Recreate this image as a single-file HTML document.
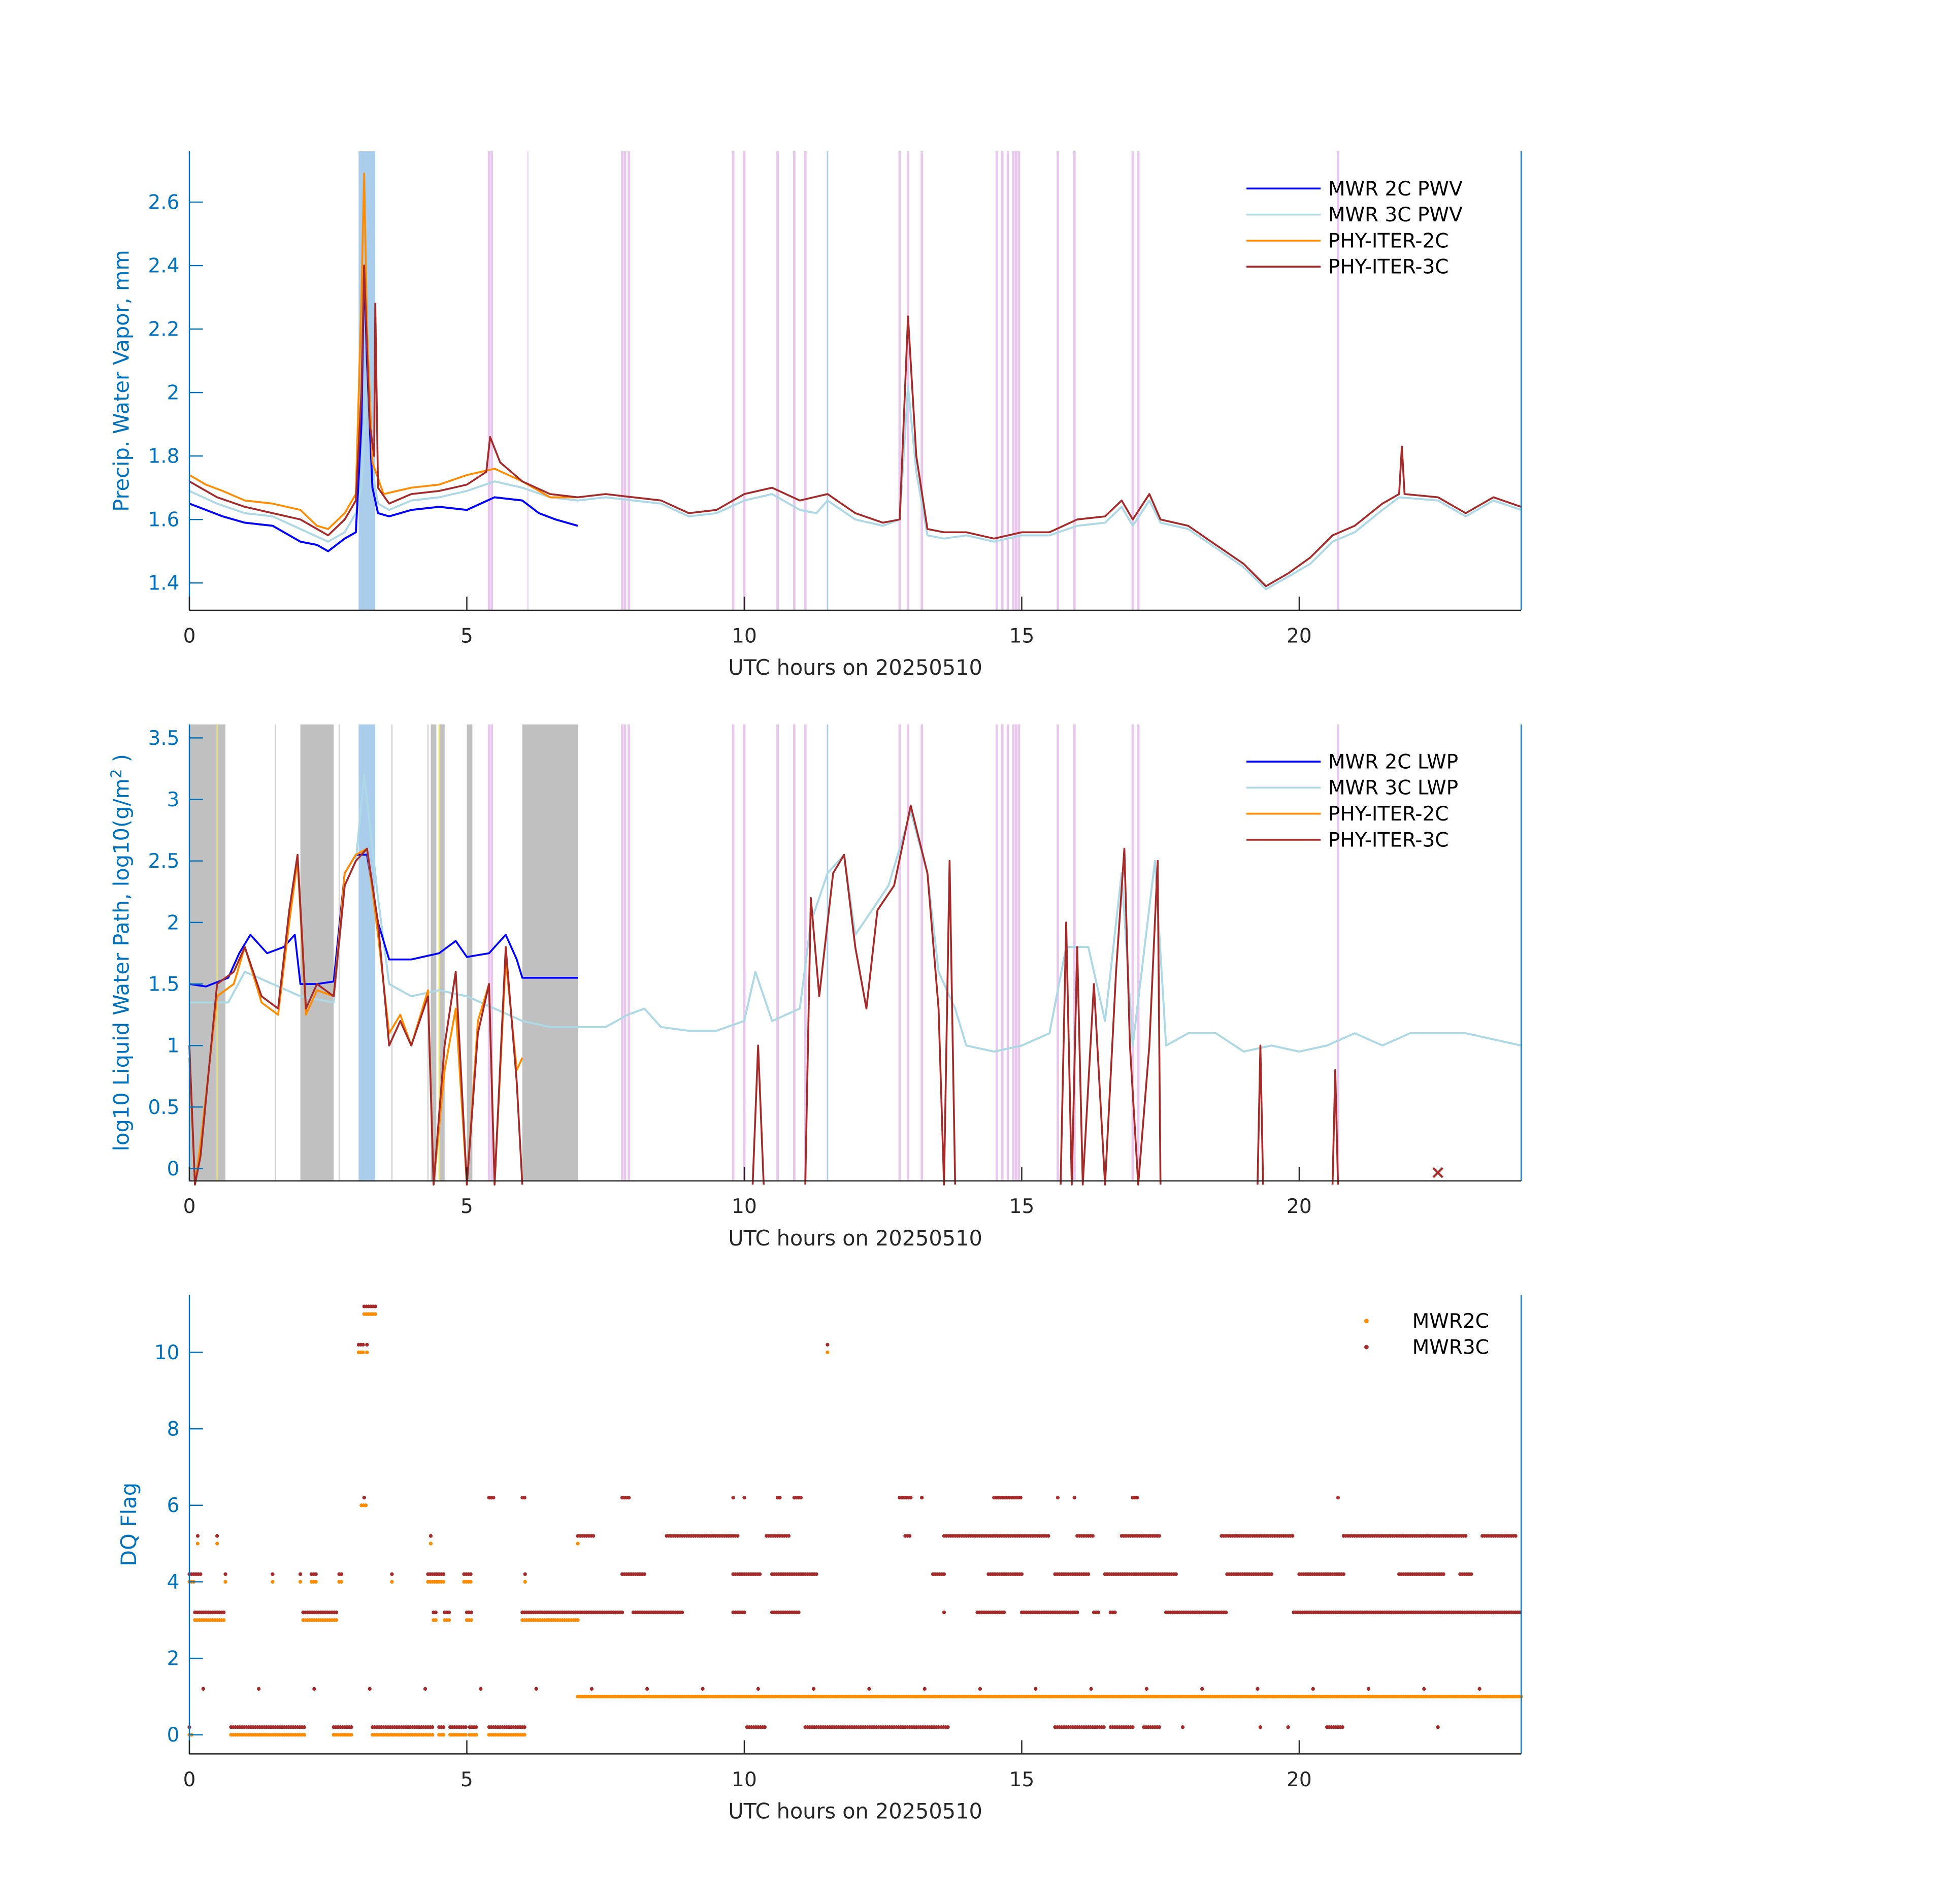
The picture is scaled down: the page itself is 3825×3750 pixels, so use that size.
<!DOCTYPE html>
<html><head><meta charset="utf-8"><style>
html,body{margin:0;padding:0;background:#fff;}
svg{display:block;font-family:"DejaVu Sans","Liberation Sans",sans-serif;}
</style></head><body>
<svg id="fig" width="3825" height="3750" viewBox="0 0 1569 1535" preserveAspectRatio="none" xmlns="http://www.w3.org/2000/svg"></svg>
<script>
// ---------- Panel 1 data (PWV, mm) ----------
const pwvBlueX=[0,0.3,0.6,1,1.5,2,2.3,2.5,2.8,3.0,3.1,3.15,3.2,3.3,3.4,3.6,4,4.5,5,5.5,6,6.3,6.6,7];
const pwvBlueY=[1.65,1.63,1.61,1.59,1.58,1.53,1.52,1.50,1.54,1.56,1.9,2.4,2.1,1.7,1.62,1.61,1.63,1.64,1.63,1.67,1.66,1.62,1.60,1.58];
const pwv3cX=[0,0.5,1,1.5,2,2.5,2.8,3.0,3.1,3.2,3.3,3.4,3.6,4,4.5,5,5.5,6,6.5,7,7.5,8,8.5,9,9.5,10,10.5,11,11.3,11.5,12,12.5,12.8,12.95,13.1,13.3,13.6,14,14.5,15,15.5,16,16.5,16.8,17,17.3,17.5,18,18.5,19,19.4,19.8,20.2,20.6,21,21.5,21.8,22.5,23,23.5,24];
const pwv3cY=[1.69,1.65,1.62,1.61,1.57,1.53,1.56,1.62,1.7,2.05,1.75,1.65,1.63,1.66,1.67,1.69,1.72,1.70,1.67,1.66,1.67,1.66,1.65,1.61,1.62,1.66,1.68,1.63,1.62,1.66,1.60,1.58,1.60,2.02,1.75,1.55,1.54,1.55,1.53,1.55,1.55,1.58,1.59,1.64,1.58,1.66,1.59,1.57,1.51,1.45,1.38,1.42,1.46,1.53,1.56,1.63,1.67,1.66,1.61,1.66,1.63];
const pwvOrX=[0,0.3,0.6,1,1.5,2,2.3,2.5,2.8,3.0,3.1,3.15,3.2,3.3,3.5,4,4.5,5,5.5,6,6.5,7];
const pwvOrY=[1.74,1.71,1.69,1.66,1.65,1.63,1.58,1.57,1.62,1.68,2.3,2.69,2.2,1.78,1.68,1.70,1.71,1.74,1.76,1.72,1.67,1.67];
const pwvRedX=[0,0.5,1,1.5,2,2.5,2.8,3.0,3.1,3.15,3.25,3.33,3.35,3.4,3.6,4,4.5,5,5.35,5.42,5.6,6,6.5,7,7.5,8,8.5,9,9.5,10,10.5,11,11.5,12,12.5,12.8,12.95,13.1,13.3,13.6,14,14.5,15,15.5,16,16.5,16.8,17,17.3,17.5,18,18.5,19,19.4,19.8,20.2,20.6,21,21.5,21.8,21.85,21.9,22.5,23,23.5,24];
const pwvRedY=[1.72,1.67,1.64,1.62,1.60,1.55,1.60,1.66,2.0,2.4,1.9,1.8,2.28,1.7,1.65,1.68,1.69,1.71,1.75,1.86,1.78,1.72,1.68,1.67,1.68,1.67,1.66,1.62,1.63,1.68,1.70,1.66,1.68,1.62,1.59,1.60,2.24,1.8,1.57,1.56,1.56,1.54,1.56,1.56,1.60,1.61,1.66,1.60,1.68,1.60,1.58,1.52,1.46,1.39,1.43,1.48,1.55,1.58,1.65,1.68,1.83,1.68,1.67,1.62,1.67,1.64];
// ---------- Panel 2 data (log10 LWP) ----------
const lwpBlueX=[0,0.3,0.7,0.9,1.1,1.4,1.7,1.9,2.0,2.3,2.6,2.8,3.0,3.2,3.4,3.6,4,4.5,4.8,5,5.4,5.7,5.9,6.0,6.5,7];
const lwpBlueY=[1.5,1.48,1.55,1.75,1.9,1.75,1.8,1.9,1.5,1.5,1.52,2.4,2.55,2.55,2.0,1.7,1.7,1.75,1.85,1.72,1.75,1.9,1.7,1.55,1.55,1.55];
const lwp3cX=[0,0.7,1,1.5,2,2.6,2.8,3.0,3.15,3.25,3.4,3.6,4,4.5,5,5.5,6,6.5,7,7.5,7.9,8.2,8.5,9,9.5,10,10.2,10.5,11,11.2,11.5,11.8,12,12.3,12.6,13,13.3,13.5,13.8,14,14.5,15,15.5,15.8,16.2,16.5,16.8,17,17.4,17.6,18,18.5,19,19.5,20,20.5,21,21.5,22,23,24];
const lwp3cY=[1.35,1.35,1.6,1.5,1.4,1.35,2.3,2.5,3.2,2.8,2.2,1.5,1.4,1.45,1.4,1.3,1.2,1.15,1.15,1.15,1.25,1.3,1.15,1.12,1.12,1.2,1.6,1.2,1.3,2.0,2.4,2.55,1.9,2.1,2.3,2.9,2.4,1.6,1.3,1.0,0.95,1.0,1.1,1.8,1.8,1.2,2.4,1.0,2.5,1.0,1.1,1.1,0.95,1.0,0.95,1.0,1.1,1.0,1.1,1.1,1.0];
const lwpOrX=[0,0.1,0.2,0.5,0.8,1,1.3,1.6,1.8,1.95,2.1,2.3,2.6,2.8,3.0,3.2,3.4,3.6,3.8,4.0,4.3,4.4,4.6,4.8,5.0,5.2,5.4,5.5,5.7,5.9,6.0];
const lwpOrY=[0.9,-0.2,0.2,1.4,1.5,1.8,1.35,1.25,2.0,2.5,1.25,1.45,1.4,2.4,2.55,2.6,1.9,1.1,1.25,1.0,1.45,-0.2,0.8,1.3,-0.2,1.2,1.5,-0.2,1.7,0.8,0.9];
const lwpRedX=[0,0.1,0.2,0.5,0.8,1,1.3,1.6,1.8,1.95,2.1,2.3,2.6,2.8,3.0,3.2,3.4,3.6,3.8,4.0,4.3,4.4,4.6,4.8,5.0,5.2,5.4,5.5,5.7,5.9,6.0,null,10.15,10.25,10.35,null,11.1,11.2,11.35,11.6,11.8,12.0,12.2,12.4,12.7,13,13.3,13.5,13.6,13.7,13.8,null,15.7,15.8,15.9,16.0,16.1,16.3,16.5,16.7,16.85,16.95,17.1,17.3,17.45,17.5,null,19.25,19.3,19.35,null,20.6,20.65,20.7];
const lwpRedY=[1.0,-0.2,0.1,1.5,1.6,1.8,1.4,1.3,2.1,2.55,1.3,1.5,1.4,2.3,2.5,2.6,2.0,1.0,1.2,1.0,1.4,-0.2,1.0,1.6,-0.2,1.1,1.5,-0.2,1.8,0.7,-0.2,null,-0.2,1.0,-0.2,null,-0.2,2.2,1.4,2.4,2.55,1.8,1.3,2.1,2.3,2.95,2.4,1.3,-0.2,2.5,-0.2,null,-0.2,2.0,-0.2,1.8,-0.2,1.5,-0.2,1.6,2.6,1.0,-0.2,1.0,2.5,-0.2,null,-0.2,1.0,-0.2,null,-0.2,0.8,-0.2];
// ---------- Panel 3 data (DQ flag intervals: [start,end,flag]) ----------
const dq2cSegs=[[0,0.05,0],[0.75,2.1,0],[2.6,2.95,0],[3.3,4.4,0],[4.5,4.6,0],[4.7,5.0,0],[5.05,5.2,0],[5.4,6.05,0],[7.0,24,1],[0.1,0.65,3],[2.05,2.65,3],[4.4,4.45,3],[4.6,4.7,3],[5.0,5.1,3],[6.0,7.0,3],[0,0.1,4],[0.65,0.65,4],[1.5,1.5,4],[2.0,2.0,4],[2.2,2.3,4],[2.7,2.75,4],[3.65,3.65,4],[4.3,4.6,4],[4.95,5.1,4],[6.05,6.05,4],[0.15,0.15,5],[0.5,0.5,5],[4.35,4.35,5],[7.0,7.0,5],[3.1,3.2,6],[3.05,3.15,10],[3.2,3.2,10],[11.5,11.5,10],[3.15,3.35,11]];
const dq3cSegs=[[0,0.02,0.2],[0.75,2.1,0.2],[2.6,2.95,0.2],[3.3,4.4,0.2],[4.5,4.6,0.2],[4.7,5.0,0.2],[5.05,5.2,0.2],[5.4,6.05,0.2],[10.05,10.4,0.2],[11.1,13.5,0.2],[13.55,13.7,0.2],[15.6,16.5,0.2],[16.6,17.0,0.2],[17.2,17.5,0.2],[17.9,17.9,0.2],[19.3,19.3,0.2],[19.8,19.8,0.2],[20.5,20.8,0.2],[22.5,22.5,0.2],
[0.25,0.25,1.2],[1.25,1.25,1.2],[2.25,2.25,1.2],[3.25,3.25,1.2],[4.25,4.25,1.2],[5.25,5.25,1.2],[6.25,6.25,1.2],[7.25,7.25,1.2],[8.25,8.25,1.2],[9.25,9.25,1.2],[10.25,10.25,1.2],[11.25,11.25,1.2],[12.25,12.25,1.2],[13.25,13.25,1.2],[14.25,14.25,1.2],[15.25,15.25,1.2],[16.25,16.25,1.2],[17.25,17.25,1.2],[18.25,18.25,1.2],[19.25,19.25,1.2],[20.25,20.25,1.2],[21.25,21.25,1.2],[22.25,22.25,1.2],[23.25,23.25,1.2],
[0.1,0.65,3.2],[2.05,2.65,3.2],[4.4,4.45,3.2],[4.6,4.7,3.2],[5.0,5.1,3.2],[6.0,7.8,3.2],[8.0,8.9,3.2],[9.8,10.0,3.2],[10.5,11.0,3.2],[13.6,13.6,3.2],[14.2,14.7,3.2],[15.0,16.0,3.2],[16.3,16.4,3.2],[16.6,16.7,3.2],[17.6,18.7,3.2],[19.9,24,3.2],
[0,0.2,4.2],[0.65,0.65,4.2],[1.5,1.5,4.2],[2.0,2.0,4.2],[2.2,2.3,4.2],[2.7,2.75,4.2],[3.65,3.65,4.2],[4.3,4.6,4.2],[4.95,5.1,4.2],[6.05,6.05,4.2],[7.8,8.2,4.2],[9.8,10.3,4.2],[10.5,11.3,4.2],[13.4,13.6,4.2],[14.4,15.0,4.2],[15.6,16.2,4.2],[16.5,17.8,4.2],[18.7,19.5,4.2],[20.0,20.8,4.2],[21.8,22.6,4.2],[22.9,23.1,4.2],
[0.15,0.15,5.2],[0.5,0.5,5.2],[4.35,4.35,5.2],[7.0,7.3,5.2],[8.6,9.9,5.2],[10.4,10.8,5.2],[12.9,13.0,5.2],[13.6,15.5,5.2],[16.0,16.3,5.2],[16.8,17.5,5.2],[18.6,19.9,5.2],[20.8,23.0,5.2],[23.3,23.9,5.2],
[3.15,3.15,6.2],[5.4,5.5,6.2],[6.0,6.05,6.2],[7.8,7.95,6.2],[9.8,9.8,6.2],[10.0,10.0,6.2],[10.6,10.65,6.2],[10.9,11.05,6.2],[12.8,13.0,6.2],[13.2,13.2,6.2],[14.5,15.0,6.2],[15.65,15.65,6.2],[15.95,15.95,6.2],[17.0,17.1,6.2],[20.7,20.7,6.2],
[3.05,3.15,10.2],[3.2,3.2,10.2],[11.5,11.5,10.2],[3.15,3.35,11.2]];
// ---------- shared overlays ----------
const pinkLines=[5.4,5.45,7.8,7.85,7.92,9.8,10.0,10.6,10.9,11.1,12.8,12.95,13.2,14.55,14.65,14.75,14.85,14.9,14.95,15.65,15.95,17.0,17.1,20.7,6.1];
const blueLines=[11.5];
const grayBands=[[0,0.65],[2.0,2.6],[4.35,4.45],[4.5,4.6],[5.0,5.1],[6.0,7.0]];
const grayLines=[1.55,2.7,3.65,4.3];
const yellowLines=[0.5,4.5];
const xTicks=[0,5,10,15,20];
const p1Ticks=[1.4,1.6,1.8,2,2.2,2.4,2.6];
const p2Ticks=[0,0.5,1,1.5,2,2.5,3,3.5];
const p3Ticks=[0,2,4,6,8,10];

const NS="http://www.w3.org/2000/svg";
const svg=document.getElementById('fig');
function mk(tag,attrs,parent){const e=document.createElementNS(NS,tag);for(const k in attrs)e.setAttribute(k,attrs[k]);(parent||svg).appendChild(e);return e;}
const X0=153,X1=1229;
function xs(h){return X0+(h/24)*(X1-X0);}
function makeY(top,bot,vmin,vmax){return v=>bot-(v-vmin)/(vmax-vmin)*(bot-top);}
const AX='#0072bd';

function axes(g,top,bot,ysc,ticks,fmt,ylabel,lx){
  const yl=mk('line',{x1:X0,y1:top,x2:X0,y2:bot,stroke:AX,'stroke-width':1},g);
  
  const yr=mk('line',{x1:X1,y1:top,x2:X1,y2:bot,stroke:AX,'stroke-width':1},g);
  
  const xl=mk('line',{x1:X0,y1:bot,x2:X1,y2:bot,stroke:'#262626','stroke-width':1},g);
  
  ticks.forEach(t=>{const y=ysc(t);
    mk('line',{x1:X0,y1:y,x2:X0+11,y2:y,stroke:AX,'stroke-width':1},g);
    const tx=mk('text',{x:X0-8,y:y+5.5,'text-anchor':'end','font-size':16,fill:AX},g);tx.textContent=fmt(t);
    });
  xTicks.forEach(t=>{const x=xs(t);
    mk('line',{x1:x,y1:bot,x2:x,y2:bot-11,stroke:'#262626','stroke-width':1},g);
    const tx=mk('text',{x:x,y:bot+26,'text-anchor':'middle','font-size':16,fill:'#262626'},g);tx.textContent=t;
    });
  const xt=mk('text',{x:(X0+X1)/2,y:bot+52,'text-anchor':'middle','font-size':17,fill:'#262626'},g);
  xt.textContent='UTC hours on 20250510';
  
  const yt=mk('text',{x:0,y:0,'text-anchor':'middle','font-size':17,fill:AX,transform:`translate(${lx},${(top+bot)/2}) rotate(-90)`},g);
  yt.innerHTML=ylabel;
  
}
function vlines(g,list,top,bot,col,w,name){list.forEach(h=>{const l=mk('line',{x1:xs(h),y1:top,x2:xs(h),y2:bot,stroke:col,'stroke-width':w},g);
  });}
function series(g,xsArr,ysArr,ysc,col,w,name,top,bot){
  let d='',pen=false;
  for(let i=0;i<xsArr.length;i++){
    if(xsArr[i]===null||ysArr[i]===null){pen=false;continue;}
    let y=Math.max(top,Math.min(bot+3,ysc(ysArr[i])));
    d+=(pen?'L':'M')+xs(xsArr[i]).toFixed(1)+','+y.toFixed(1);pen=true;}
  const p=mk('path',{d:d,fill:'none',stroke:col,'stroke-width':w,'stroke-linejoin':'round'},g);
  
}
function legend(g,x,y,items,dots){
  items.forEach((it,i)=>{const yy=y+i*21;
    if(dots){mk('circle',{cx:x+97,cy:yy,r:1.8,fill:it[1]},g);}
    else mk('line',{x1:x,y1:yy,x2:x+60,y2:yy,stroke:it[1],'stroke-width':1.5},g);
    const t=mk('text',{x:dots?x+134:x+66,y:yy+5.5,'font-size':16,fill:'#000'},g);t.textContent=it[0];
    });
}

// Panel 1
{const top=122,bot=492,ysc=makeY(top,bot,1.314,2.76);
 const g=mk('g',{});
 vlines(g,pinkLines.filter(h=>h!==6.1),top,bot,'#e8c8ec',2,'flag-line');
 vlines(g,[6.1],top,bot,'#ecd4f0',1,'flag-line');
 vlines(g,blueLines,top,bot,'#a9d0ea',1.2,'flag-line');
 const b=mk('rect',{x:xs(3.05),y:top,width:xs(3.35)-xs(3.05),height:bot-top,fill:'#aacdeb'},g);
 
 series(g,pwv3cX,pwv3cY,ysc,'#add8e6',1.6,'series-mwr3c-pwv',top,bot);
 series(g,pwvBlueX,pwvBlueY,ysc,'#0000ff',1.6,'series-mwr2c-pwv',top,bot);
 series(g,pwvOrX,pwvOrY,ysc,'#ff8c00',1.5,'series-phy-iter-2c',top,bot);
 series(g,pwvRedX,pwvRedY,ysc,'#a52a2a',1.5,'series-phy-iter-3c',top,bot);
 axes(g,top,bot,ysc,p1Ticks,v=>String(v),'Precip. Water Vapor, mm',104);
 legend(g,1007,152,[['MWR 2C PWV','#0000ff'],['MWR 3C PWV','#add8e6'],['PHY-ITER-2C','#ff8c00'],['PHY-ITER-3C','#a52a2a']],false);}
// Panel 2
{const top=584,bot=952,ysc=makeY(top,bot,-0.1,3.61);
 const g=mk('g',{});
 grayBands.forEach(s=>{const r=mk('rect',{x:xs(s[0]),y:top,width:xs(s[1])-xs(s[0]),height:bot-top,fill:'#c0c0c0'},g);
   });
 vlines(g,grayLines,top,bot,'#d0d0d0',1,'flag-line');
 vlines(g,yellowLines,top,bot,'#e8e070',1,'flag-line');
 vlines(g,pinkLines.filter(h=>h!==6.1),top,bot,'#e8c8ec',2,'flag-line');
 vlines(g,blueLines,top,bot,'#a9d0ea',1.2,'flag-line');
 const b=mk('rect',{x:xs(3.05),y:top,width:xs(3.35)-xs(3.05),height:bot-top,fill:'#aacdeb'},g);
 
 series(g,lwp3cX,lwp3cY,ysc,'#add8e6',1.6,'series-mwr3c-lwp',top,bot);
 series(g,lwpBlueX,lwpBlueY,ysc,'#0000ff',1.5,'series-mwr2c-lwp',top,bot);
 series(g,lwpOrX,lwpOrY,ysc,'#ff8c00',1.5,'series-phy-iter-2c',top,bot);
 series(g,lwpRedX,lwpRedY,ysc,'#a52a2a',1.5,'series-phy-iter-3c',top,bot);
 const m=mk('text',{x:xs(22.5),y:ysc(-0.03)+5,'text-anchor':'middle','font-size':15,fill:'#a52a2a','font-weight':'bold'},g);m.textContent='×';
 
 axes(g,top,bot,ysc,p2Ticks,v=>String(v),'log10 Liquid Water Path, log10(g/m<tspan dy="-6" font-size="12">2</tspan><tspan dy="6"> )</tspan>',104);
 legend(g,1007,614,[['MWR 2C LWP','#0000ff'],['MWR 3C LWP','#add8e6'],['PHY-ITER-2C','#ff8c00'],['PHY-ITER-3C','#a52a2a']],false);}
// Panel 3
{const top=1044,bot=1414,ysc=makeY(top,bot,-0.5,11.5);
 const g=mk('g',{});
 function dots(segs,col,name){segs.forEach(s=>{
   for(let h=s[0];h<=s[1]+1e-9;h+=0.04){const c=mk('circle',{cx:xs(h),cy:ysc(s[2]),r:1.5,fill:col},g);
     }});}
 dots(dq2cSegs,'#ff8c00','dq-point-mwr2c');
 dots(dq3cSegs,'#a52a2a','dq-point-mwr3c');
 axes(g,top,bot,ysc,p3Ticks,v=>String(v),'DQ Flag',110);
 legend(g,1007,1065,[['MWR2C','#ff8c00'],['MWR3C','#a52a2a']],true);}
</script>
</body></html>
